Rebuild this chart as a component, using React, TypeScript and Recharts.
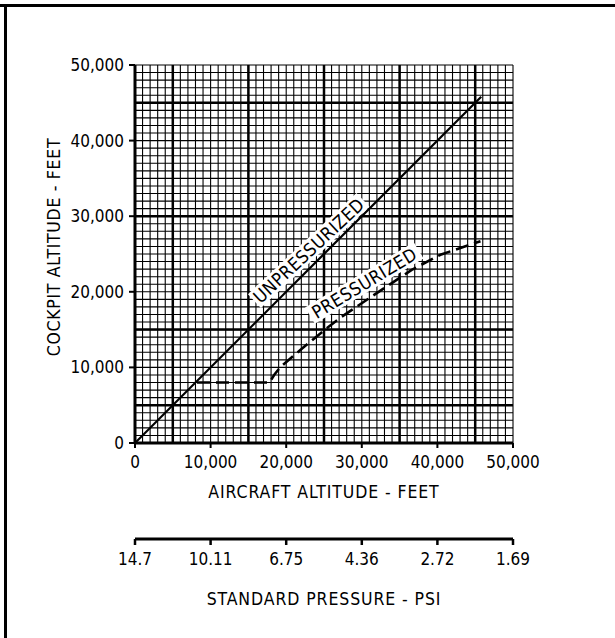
import React from 'react';
import { LineChart, Line, XAxis, YAxis, CartesianGrid, ReferenceDot } from 'recharts';

// ---- data ----
const altitudeTicks = [0, 10000, 20000, 30000, 40000, 50000];
const cabinTicks = [0, 10000, 20000, 30000, 40000, 50000];
const psiLabels = ['14.7', '10.11', '6.75', '4.36', '2.72', '1.69'];

const unpressurized = [
  { alt: 0, cabin: 0 },
  { alt: 45800, cabin: 45800 },
];

const pressurized = [
  { alt: 8200, cabin: 8000 },
  { alt: 17800, cabin: 8000 },
  { alt: 18400, cabin: 9000 },
  { alt: 19200, cabin: 10000 },
  { alt: 22100, cabin: 12500 },
  { alt: 25400, cabin: 15200 },
  { alt: 27200, cabin: 16600 },
  { alt: 31500, cabin: 19500 },
  { alt: 36600, cabin: 22900 },
  { alt: 40400, cabin: 24900 },
  { alt: 45700, cabin: 26700 },
];

const minorGrid = Array.from({ length: 51 }, (_, i) => i * 1000);
const majorVertical = [5000, 15000, 25000, 35000, 45000];
const majorHorizontal = [5000, 15000, 30000, 45000];

const annotations = [
  { text: 'UNPRESSURIZED', alt: 22980, cabin: 25460, angle: -43 },
  { text: 'PRESSURIZED', alt: 30330, cabin: 21160, angle: -31 },
];

const FONT = "'DejaVu Sans Condensed', 'DejaVu Sans', sans-serif";

function RotText(props: any) {
  const { viewBox, text, angle } = props;
  const cx = viewBox.x + (viewBox.width || 0) / 2;
  const cy = viewBox.y + (viewBox.height || 0) / 2;
  const w = text.length * 10.8 + 8;
  const h = 19;
  return (
    <g transform={`translate(${cx},${cy}) rotate(${angle})`}>
      <rect x={-w / 2} y={-h / 2} width={w} height={h} fill="#fff" />
      <text
        x={0}
        y={0}
        dy="0.36em"
        textAnchor="middle"
        fill="#000"
        style={{ fontFamily: FONT, fontSize: 18, letterSpacing: '0.5px' }}
      >
        {text}
      </text>
    </g>
  );
}

function YTitle(props: any) {
  const { viewBox } = props;
  const x = viewBox.x + 54;
  const y = viewBox.y + viewBox.height / 2 - 7;
  return (
    <text
      transform={`translate(${x},${y}) rotate(-90)`}
      textAnchor="middle"
      dy="0.36em"
      fill="#000"
      style={{ fontFamily: FONT, fontSize: 17.5, letterSpacing: '0.7px' }}
    >
      COCKPIT ALTITUDE - FEET
    </text>
  );
}

const tickStyle = { fill: '#000', fontSize: 17, fontFamily: FONT };

export default function App() {
  return (
    <div
      className="cabin-chart"
      style={{ position: 'absolute', left: 0, top: 0, width: 615, height: 638, background: '#fff' }}
    >
      <style>{`.cabin-chart svg text { font-family: ${FONT}; letter-spacing: 0px; } .cabin-chart svg .recharts-label { letter-spacing: 0.9px; }`}</style>
      <div style={{ position: 'absolute', left: 0, top: 4, width: 615, height: 3, background: '#000' }} />
      <div style={{ position: 'absolute', left: 4, top: 4, width: 3, height: 634, background: '#000' }} />
      <LineChart width={615} height={638} margin={{ top: 65, right: 102, left: 0, bottom: 0 }}>
        <CartesianGrid
          horizontalValues={minorGrid}
          verticalValues={minorGrid}
          stroke="#000"
          strokeWidth={1.1}
        />
        <CartesianGrid
          horizontalValues={majorHorizontal}
          verticalValues={majorVertical}
          stroke="#000"
          strokeWidth={2.5}
        />
        <XAxis
          dataKey="alt"
          type="number"
          domain={[0, 50000]}
          ticks={altitudeTicks}
          tickFormatter={(v: number) => v.toLocaleString('en-US')}
          height={96}
          tickSize={5}
          tickMargin={8}
          axisLine={{ stroke: '#000', strokeWidth: 3 }}
          tickLine={{ stroke: '#000', strokeWidth: 2 }}
          tick={tickStyle}
          label={{ value: 'AIRCRAFT ALTITUDE - FEET', position: 'insideTop', offset: 43, fill: '#000', fontSize: 17.5 }}
          interval={0}
        />
        <XAxis
          xAxisId="psi"
          dataKey="alt"
          type="number"
          domain={[0, 50000]}
          ticks={altitudeTicks}
          tickFormatter={(v: number) => psiLabels[altitudeTicks.indexOf(v)]}
          height={99}
          tickSize={6}
          tickMargin={8}
          axisLine={{ stroke: '#000', strokeWidth: 3 }}
          tickLine={{ stroke: '#000', strokeWidth: 2.5 }}
          tick={tickStyle}
          label={{ value: 'STANDARD PRESSURE - PSI', position: 'insideTop', offset: 54, fill: '#000', fontSize: 17.5 }}
          interval={0}
        />
        <YAxis
          type="number"
          domain={[0, 50000]}
          ticks={cabinTicks}
          tickFormatter={(v: number) => v.toLocaleString('en-US')}
          width={135}
          tickSize={6}
          tickMargin={5}
          axisLine={{ stroke: '#000', strokeWidth: 3 }}
          tickLine={{ stroke: '#000', strokeWidth: 2 }}
          tick={tickStyle}
          label={{ content: (p: any) => <YTitle {...p} /> }}
          interval={0}
        />
        <Line
          xAxisId="psi"
          data={unpressurized}
          dataKey="cabin"
          type="linear"
          stroke="none"
          strokeWidth={0}
          dot={false}
          activeDot={false}
          legendType="none"
          isAnimationActive={false}
        />
        <Line
          data={unpressurized}
          dataKey="cabin"
          type="linear"
          stroke="#000"
          strokeWidth={2.2}
          dot={false}
          isAnimationActive={false}
        />
        <Line
          data={pressurized}
          dataKey="cabin"
          type="linear"
          stroke="#000"
          strokeWidth={2.6}
          strokeDasharray="13 6"
          dot={false}
          isAnimationActive={false}
        />
        {annotations.map((a) => (
          <ReferenceDot
            key={a.text}
            x={a.alt}
            y={a.cabin}
            r={0}
            fill="none"
            stroke="none"
            label={{ content: (p: any) => <RotText {...p} text={a.text} angle={a.angle} /> }}
          />
        ))}
      </LineChart>
    </div>
  );
}
